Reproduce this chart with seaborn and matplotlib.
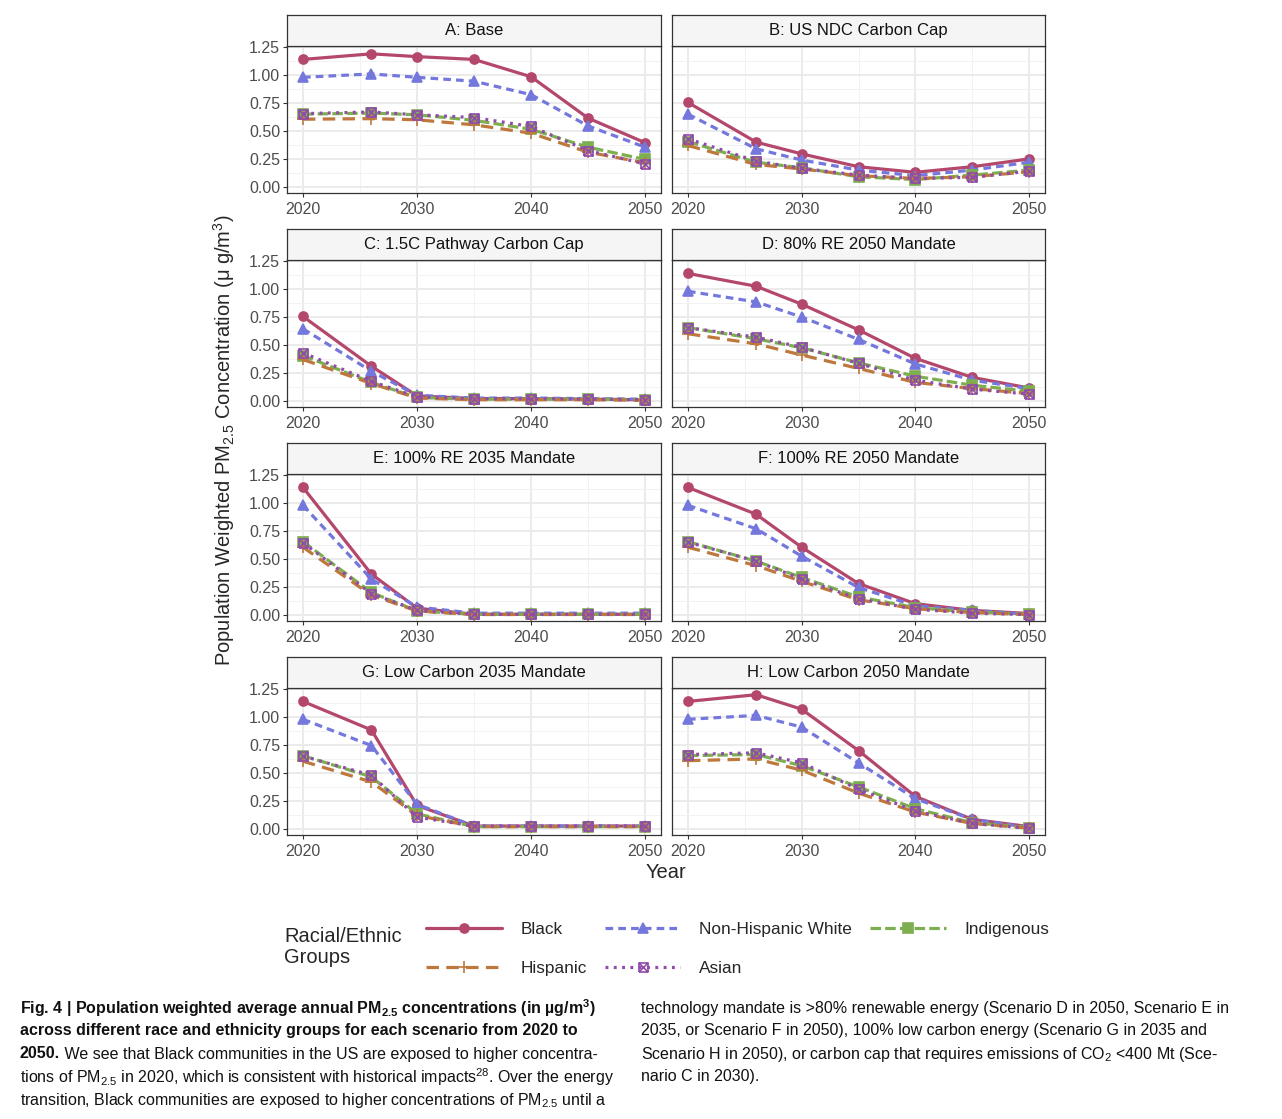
import numpy as np
import pandas as pd
import matplotlib
matplotlib.use("Agg")
import matplotlib.pyplot as plt
from matplotlib.path import Path
from matplotlib.lines import Line2D
import seaborn as sns

# values (ug/m3)
years = [2020, 2026, 2030, 2035, 2040, 2045, 2050]
groups = ["Black", "Non-Hispanic White", "Indigenous", "Hispanic", "Asian"]
panel_titles = ["A: Base", "B: US NDC Carbon Cap", "C: 1.5C Pathway Carbon Cap",
                "D: 80% RE 2050 Mandate", "E: 100% RE 2035 Mandate",
                "F: 100% RE 2050 Mandate", "G: Low Carbon 2035 Mandate",
                "H: Low Carbon 2050 Mandate"]

base = {"Black": [1.14, 1.19, 1.165, 1.14, 0.985, 0.615, 0.395],
        "Non-Hispanic White": [0.98, 1.01, 0.98, 0.945, 0.825, 0.545, 0.355],
        "Indigenous": [0.65, 0.66, 0.645, 0.595, 0.515, 0.355, 0.245],
        "Hispanic": [0.605, 0.61, 0.60, 0.555, 0.48, 0.31, 0.215],
        "Asian": [0.655, 0.67, 0.645, 0.62, 0.54, 0.325, 0.205]}
ndc_cap = {"Black": [0.755, 0.40, 0.295, 0.18, 0.13, 0.18, 0.25],
           "Non-Hispanic White": [0.65, 0.34, 0.24, 0.15, 0.10, 0.15, 0.22],
           "Indigenous": [0.405, 0.22, 0.17, 0.09, 0.065, 0.105, 0.15],
           "Hispanic": [0.37, 0.20, 0.16, 0.10, 0.075, 0.09, 0.135],
           "Asian": [0.43, 0.23, 0.165, 0.105, 0.075, 0.085, 0.14]}
cap_15c = {"Black": [0.755, 0.31, 0.045, 0.02, 0.02, 0.015, 0.01],
           "Non-Hispanic White": [0.645, 0.265, 0.05, 0.025, 0.025, 0.02, 0.015],
           "Indigenous": [0.405, 0.165, 0.03, 0.015, 0.015, 0.015, 0.01],
           "Hispanic": [0.37, 0.155, 0.025, 0.01, 0.01, 0.01, 0.005],
           "Asian": [0.43, 0.175, 0.035, 0.02, 0.02, 0.015, 0.01]}
re80_2050 = {"Black": [1.14, 1.025, 0.865, 0.635, 0.38, 0.21, 0.115],
             "Non-Hispanic White": [0.98, 0.885, 0.75, 0.55, 0.33, 0.185, 0.11],
             "Indigenous": [0.655, 0.555, 0.475, 0.34, 0.22, 0.14, 0.085],
             "Hispanic": [0.60, 0.51, 0.41, 0.29, 0.165, 0.11, 0.065],
             "Asian": [0.655, 0.57, 0.48, 0.335, 0.185, 0.105, 0.06]}
re100_2035 = {"Black": [1.14, 0.365, 0.06, 0.005, 0.005, 0.005, 0.005],
              "Non-Hispanic White": [0.98, 0.32, 0.07, 0.015, 0.015, 0.015, 0.015],
              "Indigenous": [0.655, 0.20, 0.035, 0.005, 0.005, 0.005, 0.005],
              "Hispanic": [0.605, 0.175, 0.035, 0.003, 0.003, 0.003, 0.003],
              "Asian": [0.645, 0.19, 0.04, 0.005, 0.005, 0.005, 0.005]}
re100_2050 = {"Black": [1.14, 0.90, 0.605, 0.28, 0.10, 0.04, 0.012],
              "Non-Hispanic White": [0.98, 0.77, 0.525, 0.245, 0.08, 0.04, 0.005],
              "Indigenous": [0.655, 0.48, 0.335, 0.16, 0.065, 0.025, 0.005],
              "Hispanic": [0.605, 0.44, 0.30, 0.135, 0.055, 0.02, 0.003],
              "Asian": [0.65, 0.48, 0.32, 0.145, 0.05, 0.015, 0.003]}
lc_2035 = {"Black": [1.14, 0.885, 0.21, 0.025, 0.025, 0.025, 0.025],
           "Non-Hispanic White": [0.98, 0.745, 0.22, 0.025, 0.025, 0.025, 0.025],
           "Indigenous": [0.655, 0.465, 0.135, 0.02, 0.02, 0.02, 0.02],
           "Hispanic": [0.605, 0.42, 0.12, 0.02, 0.02, 0.02, 0.02],
           "Asian": [0.65, 0.48, 0.105, 0.025, 0.025, 0.025, 0.025]}
lc_2050 = {"Black": [1.14, 1.20, 1.07, 0.70, 0.29, 0.085, 0.02],
           "Non-Hispanic White": [0.98, 1.015, 0.91, 0.59, 0.27, 0.085, 0.012],
           "Indigenous": [0.655, 0.665, 0.565, 0.375, 0.18, 0.055, 0.012],
           "Hispanic": [0.61, 0.625, 0.525, 0.32, 0.15, 0.048, 0.006],
           "Asian": [0.665, 0.68, 0.59, 0.355, 0.16, 0.048, 0.006]}
scenarios = [base, ndc_cap, cap_15c, re80_2050, re100_2035, re100_2050, lc_2035, lc_2050]

rows = []
for title, sc in zip(panel_titles, scenarios):
    for g in groups:
        for yr, v in zip(years, sc[g]):
            rows.append((title, g, yr, v))
df = pd.DataFrame(rows, columns=["scenario", "group", "year", "pm25"])

# styles per group
box_x = Path([(-1, -1), (1, -1), (1, 1), (-1, 1), (-1, -1), (-1, -1), (1, 1), (-1, 1), (1, -1)],
             [Path.MOVETO, Path.LINETO, Path.LINETO, Path.LINETO, Path.LINETO,
              Path.MOVETO, Path.LINETO, Path.MOVETO, Path.LINETO])
colors = {"Black": "#B4476C", "Non-Hispanic White": "#7478DC", "Indigenous": "#7DAF50",
          "Hispanic": "#BE783C", "Asian": "#914BAA"}
dashes = {"Black": "-", "Non-Hispanic White": (0, (2.4, 1.6)), "Indigenous": (0, (3.3, 1.3)),
          "Hispanic": (0, (3.9, 2.3)), "Asian": (0, (0.9, 1.7))}
markers = {"Black": "o", "Non-Hispanic White": "^", "Indigenous": "s", "Hispanic": "+", "Asian": box_x}
msizes = {"Black": 6.5, "Non-Hispanic White": 7.5, "Indigenous": 7, "Hispanic": 9, "Asian": 6.5}
mfcs = {"Black": None, "Non-Hispanic White": None, "Indigenous": None, "Hispanic": None, "Asian": "none"}

def style_kws(g):
    c = colors[g]
    return dict(color=c, linestyle=dashes[g], linewidth=2.3, marker=markers[g],
                markersize=msizes[g], markeredgecolor=c, markeredgewidth=1.2,
                markerfacecolor=mfcs[g] if mfcs[g] else c)

sns.set_theme(style="white")
plt.rcParams["font.family"] = ["Liberation Sans", "DejaVu Sans"]
plt.rcParams["mathtext.default"] = "regular"

W, H = 1282, 1119
fig = plt.figure(figsize=(W / 100, H / 100), dpi=100)
fig.patch.set_facecolor("white")

col_x = [287, 672]
col_w = [374, 373]
row_top = [15, 229, 443, 657]
strip_h = 31
plot_h = 147

def rect(x, y_top, w, h):
    return [x / W, 1 - (y_top + h) / H, w / W, h / H]

for i, title in enumerate(panel_titles):
    r, c = divmod(i, 2)
    ax = fig.add_axes(rect(col_x[c], row_top[r] + strip_h, col_w[c], plot_h))
    sub = df[df["scenario"] == title]
    for g in groups:
        sns.lineplot(data=sub[sub["group"] == g], x="year", y="pm25", ax=ax,
                     legend=False, errorbar=None, **style_kws(g))
    ax.set_xlim(2018.6, 2051.4)
    ax.set_ylim(-0.055, 1.26)
    ax.set_xticks([2020, 2030, 2040, 2050])
    ax.set_xticklabels(["2020", "2030", "2040", "2050"])
    yt = [0, 0.25, 0.5, 0.75, 1.0, 1.25]
    ax.set_yticks(yt)
    ax.set_yticklabels([f"{t:.2f}" for t in yt])
    ax.set_xticks([2025, 2035, 2045], minor=True)
    ax.set_yticks([0.125, 0.375, 0.625, 0.875, 1.125], minor=True)
    ax.grid(which="major", color="#EBEBEB", linewidth=1.4)
    ax.grid(which="minor", color="#F2F2F2", linewidth=0.7)
    ax.set_axisbelow(True)
    ax.set_xlabel("")
    ax.set_ylabel("")
    for s in ax.spines.values():
        s.set_color("#333333")
        s.set_linewidth(0.9)
    ax.tick_params(which="major", length=3, width=0.8, color="#333333",
                   labelsize=11.5, labelcolor="#4D4D4D", bottom=True, left=True)
    ax.tick_params(axis="x", pad=3.5)
    ax.tick_params(axis="y", pad=2)
    ax.tick_params(which="minor", length=0)
    if c == 1:
        ax.tick_params(axis="y", left=False, labelleft=False)

    sax = fig.add_axes(rect(col_x[c], row_top[r], col_w[c], strip_h))
    sax.set_facecolor("#F5F5F5")
    sax.set_xticks([])
    sax.set_yticks([])
    for s in sax.spines.values():
        s.set_color("#333333")
        s.set_linewidth(0.9)
    sax.text(0.5, 0.5, title, ha="center", va="center", fontsize=12, color="#111111",
             transform=sax.transAxes)

fig.text(666 / W, 1 - 872 / H, "Year", ha="center", va="center", fontsize=14.5)
fig.text(224 / W, 1 - 440 / H, "Population Weighted PM$_{2.5}$ Concentration (μ g/m$^3$)",
         ha="center", va="center", rotation=90, fontsize=14.5)

# legend
fig.text(284 / W, 1 - 947 / H, "Racial/Ethnic\nGroups", ha="left", va="center",
         fontsize=14.5, linespacing=1.12)
order = ["Black", "Hispanic", "Non-Hispanic White", "Asian", "Indigenous"]
handles = [Line2D([], [], **style_kws(g)) for g in order]
fig.legend(handles, order, ncol=3, loc="upper left", bbox_to_anchor=(426 / W, 1 - 922 / H),
           frameon=False, fontsize=12.4, handlelength=4.4, handletextpad=1.1,
           columnspacing=1.02, labelspacing=1.38, borderpad=0, borderaxespad=0)

# caption
cap_family = ["Liberation Sans Narrow", "Liberation Sans"]
left_lines = [
    [("Fig. 4 | Population weighted average annual PM$_{2.5}$ concentrations (in µg/m$^3$)", "bold")],
    [("across different race and ethnicity groups for each scenario from 2020 to", "bold")],
    [("2050.", "bold"), (" We see that Black communities in the US are exposed to higher concentra-", "normal")],
    [("tions of PM$_{2.5}$ in 2020, which is consistent with historical impacts$^{28}$. Over the energy", "normal")],
    [("transition, Black communities are exposed to higher concentrations of PM$_{2.5}$ until a", "normal")],
]
right_lines = [
    [("technology mandate is >80% renewable energy (Scenario D in 2050, Scenario E in", "normal")],
    [("2035, or Scenario F in 2050), 100% low carbon energy (Scenario G in 2035 and", "normal")],
    [("Scenario H in 2050), or carbon cap that requires emissions of CO$_2$ <400 Mt (Sce-", "normal")],
    [("nario C in 2030).", "normal")],
]
line_y = [1008, 1031, 1054, 1077, 1100]

renderer = fig.canvas.get_renderer()

def line_width(segs, size):
    total = 0
    for txt, wt in segs:
        t = fig.text(0, 0, txt, fontsize=size, fontweight=wt, family=cap_family)
        total += t.get_window_extent(renderer).width
        t.remove()
    return total

cap_size = 12 * 595 / line_width(left_lines[3], 12)

def draw_lines(lines, x0):
    for segs, y in zip(lines, line_y):
        x = x0
        for txt, wt in segs:
            t = fig.text(x / W, 1 - y / H, txt, fontsize=cap_size, fontweight=wt,
                         family=cap_family, ha="left", va="center", color="#111111")
            x += t.get_window_extent(renderer).width

draw_lines(left_lines, 20)
draw_lines(right_lines, 641)

fig.savefig("out.png", dpi=100, facecolor="white")
